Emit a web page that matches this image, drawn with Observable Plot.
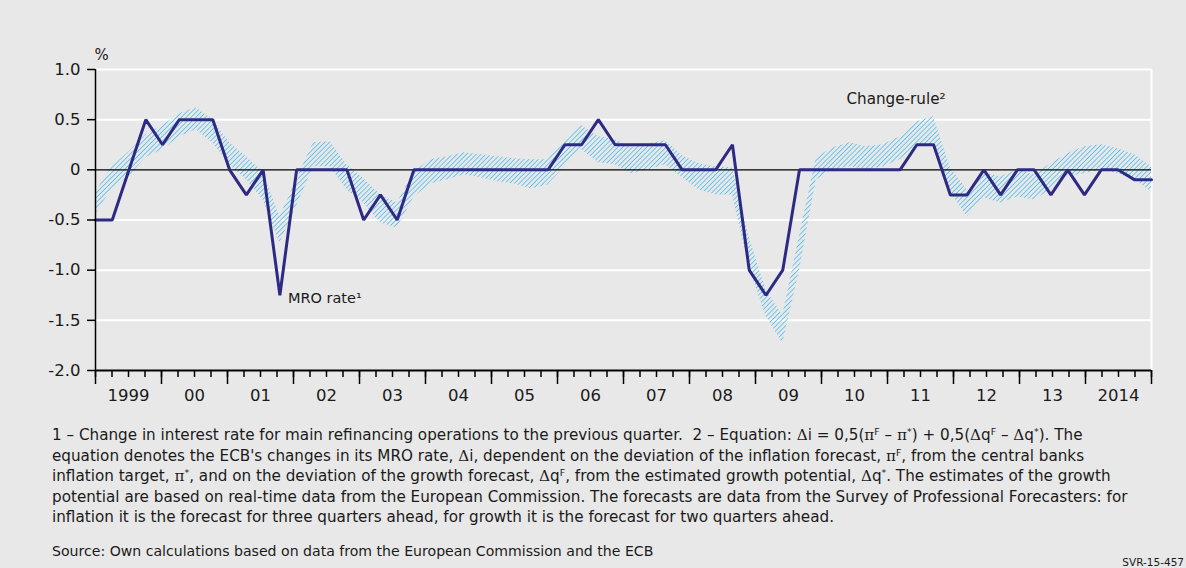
<!DOCTYPE html>
<html>
<head>
<meta charset="utf-8">
<script src="https://cdn.jsdelivr.net/npm/d3@7"></script>
<script src="https://cdn.jsdelivr.net/npm/@observablehq/plot@0.6"></script>
<style>
  html, body { margin: 0; padding: 0; background: #e8e8e8; }
  #wrap { position: relative; width: 1186px; height: 568px; overflow: hidden;
          font-family: "DejaVu Sans", sans-serif; color: #1a1a1a; }
  #chart { position: absolute; left: 0; top: 0; }
  .note { position: absolute; left: 52px; top: 425px; font-size: 15.2px; line-height: 20.6px; width: 1120px; }
  .note div { white-space: nowrap; }
  .src { position: absolute; left: 52px; top: 541px; font-size: 14.1px; line-height: 20px; white-space: nowrap; }
  .id { position: absolute; right: 2px; top: 556px; font-size: 10.5px; line-height: 13px; }
  .g { font-family: "DejaVu Serif", "Liberation Serif", serif; }
  sup { font-size: 0.62em; vertical-align: 0.55em; line-height: 0; }
</style>
</head>
<body>
<svg width="0" height="0" style="position:absolute">
  <defs>
    <pattern id="hatch" patternUnits="userSpaceOnUse" width="3.4" height="3.4" patternTransform="rotate(45)">
      <line x1="0" y1="0" x2="0" y2="3.4" stroke="#4fbdee" stroke-width="1.6"></line>
    </pattern>
  </defs>
</svg>
<div id="wrap">
  <div id="chart"></div>
  <div class="note">
    <div>1 – Change in interest rate for main refinancing operations to the previous quarter.&nbsp; 2 – Equation: <span class="g">Δ</span>i = 0,5(<span class="g">π</span><sup>F</sup> – <span class="g">π</span><sup>*</sup>) + 0,5(<span class="g">Δ</span>q<sup>F</sup> – <span class="g">Δ</span>q<sup>*</sup>). The</div>
    <div>equation denotes the ECB's changes in its MRO rate, <span class="g">Δ</span>i, dependent on the deviation of the inflation forecast, <span class="g">π</span><sup>F</sup>, from the central banks</div>
    <div>inflation target, <span class="g">π</span><sup>*</sup>, and on the deviation of the growth forecast, <span class="g">Δ</span>q<sup>F</sup>, from the estimated growth potential, <span class="g">Δ</span>q<sup>*</sup>. The estimates of the growth</div>
    <div>potential are based on real-time data from the European Commission. The forecasts are data from the Survey of Professional Forecasters: for</div>
    <div>inflation it is the forecast for three quarters ahead, for growth it is the forecast for two quarters ahead.</div>
  </div>
  <div class="src">Source: Own calculations based on data from the European Commission and the ECB</div>
  <div class="id">SVR-15-457</div>
</div>
<script>
// ---- data (quarterly, 1999 Q1 – 2014 Q4) ----
const years = [1999, 2000, 2001, 2002, 2003, 2004, 2005, 2006, 2007, 2008, 2009, 2010, 2011, 2012, 2013, 2014];
const yearLabels = ["1999", "00", "01", "02", "03", "04", "05", "06", "07", "08", "09", "10", "11", "12", "13", "2014"];
const quarters = years.flatMap(y => ["Q1", "Q2", "Q3", "Q4"].map(q => `${y} ${q}`));

// Change in MRO rate to the previous quarter (percentage points)
const mro = [
  -0.5, -0.5, 0, 0.5, 0.25, 0.5, 0.5, 0.5,
  0, -0.25, 0, -1.25, 0, 0, 0, 0,
  -0.5, -0.25, -0.5, 0, 0, 0, 0, 0,
  0, 0, 0, 0, 0.25, 0.25, 0.5, 0.25,
  0.25, 0.25, 0.25, 0, 0, 0, 0.25, -1.0,
  -1.25, -1.0, 0, 0, 0, 0, 0, 0,
  0, 0.25, 0.25, -0.25, -0.25, 0, -0.25, 0,
  0, -0.25, 0, -0.25, 0, 0, -0.1, -0.1
];

// Change-rule range (lower and upper bound)
const ruleLow = [
  -0.45, -0.18, -0.07, 0.12, 0.2, 0.33, 0.4, 0.27,
  0.05, -0.1, -0.3, -0.73, -0.36, 0.03, 0.03, -0.2,
  -0.33, -0.53, -0.58, -0.27, -0.14, -0.1, -0.05, -0.08,
  -0.12, -0.14, -0.19, -0.15, 0.03, 0.2, 0.07, 0.05,
  -0.04, 0.0, 0.05, -0.08, -0.2, -0.25, -0.25, -0.97,
  -1.46, -1.73, -1.0, -0.1, 0.0, 0.03, 0.0, 0.03,
  0.1, 0.23, 0.25, -0.22, -0.47, -0.28, -0.33, -0.27,
  -0.3, -0.2, -0.07, -0.04, 0.0, -0.04, -0.1, -0.22
];
const ruleHigh = [
  -0.22, 0.03, 0.18, 0.35, 0.44, 0.56, 0.62, 0.5,
  0.27, 0.13, -0.02, -0.47, -0.1, 0.27, 0.28, 0.05,
  -0.09, -0.25, -0.33, -0.02, 0.1, 0.13, 0.17, 0.15,
  0.13, 0.11, 0.1, 0.1, 0.3, 0.44, 0.33, 0.3,
  0.22, 0.26, 0.29, 0.14, 0.06, 0.03, 0.02, -0.67,
  -1.2, -1.45, -0.66, 0.12, 0.22, 0.27, 0.23, 0.25,
  0.33, 0.48, 0.53, 0.02, -0.2, -0.03, -0.07, 0.0,
  -0.05, 0.06, 0.16, 0.23, 0.25, 0.21, 0.15, 0.03
];

const yTicks = [1, 0.5, 0, -0.5, -1, -1.5, -2];

// ---- derived tables ----
const x0 = years[0], x1 = years[years.length - 1] + 1;
// the 64 quarterly observations are spread evenly over the full axis span
const data = quarters.map((q, i) => ({
  q,
  t: x0 + i * (x1 - x0) / (quarters.length - 1),
  mro: mro[i], lo: ruleLow[i], hi: ruleHigh[i]
}));
const quarterTicks = d3.range(0, (x1 - x0) * 4 + 1).map(k => x0 + k / 4);
const yearTicks = d3.range(x0, x1 + 1);
const yearMids = years.map(y => y + 0.5);
const iMin = mro.indexOf(d3.min(mro));
const iPeak = d3.range(48, 64).reduce((a, b) => ruleHigh[b] > ruleHigh[a] ? b : a, 48);

const chart = Plot.plot({
  width: 1186,
  height: 412,
  marginLeft: 95,
  marginRight: 35,
  marginTop: 69,
  marginBottom: 42,
  x: { domain: [x0, x1] },
  y: { domain: [-2, 1] },
  style: { background: "transparent", fontFamily: "DejaVu Sans, sans-serif", fontSize: "16.5px", color: "#1a1a1a", overflow: "visible" },
  marks: [
    Plot.gridY(yTicks.filter(d => d !== 0 && d !== -2), { stroke: "white", strokeOpacity: 1, strokeWidth: 2 }),
    Plot.ruleX([x1], { stroke: "white", strokeWidth: 2 }),
    Plot.areaY(data, { x: "t", y1: "lo", y2: "hi", fill: "url(#hatch)", curve: "linear" }),
    Plot.ruleY([0], { stroke: "black", strokeWidth: 1.3 }),
    Plot.lineY(data, { x: "t", y: "mro", stroke: "#2e2a84", strokeWidth: 3, strokeLinejoin: "miter", curve: "linear" }),
    Plot.ruleX([x0], { stroke: "black", strokeWidth: 1.5 }),
    Plot.ruleY([-2], { stroke: "black", strokeWidth: 2 }),
    Plot.axisY(yTicks, { tickSize: 8, tickPadding: 7, strokeWidth: 1.5, stroke: "black", label: null,
      tickFormat: d => d === 0 ? "0" : d.toFixed(1) }),
    Plot.axisX(quarterTicks, { tickSize: 7, strokeWidth: 1.5, stroke: "black", tickFormat: () => "", label: null }),
    Plot.axisX(yearTicks, { tickSize: 14, strokeWidth: 1.5, stroke: "black", tickFormat: () => "", label: null }),
    Plot.axisX(yearMids, { tickSize: 0, tickPadding: 19, label: null,
      tickFormat: d => yearLabels[years.indexOf(Math.floor(d))] }),
    Plot.text(["%"], { frameAnchor: "top-left", textAnchor: "start", dx: -1, dy: -20, fontSize: 15 }),
    Plot.text([data[iMin]], { x: "t", y: "mro", text: () => "MRO rate¹", textAnchor: "start", dx: 8, dy: 3, fontSize: 14.5 }),
    Plot.text([data[iPeak]], { x: "t", y: "hi", text: () => "Change-rule²", textAnchor: "end", dx: 12, dy: -18, fontSize: 15.2 })
  ]
});
document.getElementById("chart").appendChild(chart);
</script>
</body>
</html>
